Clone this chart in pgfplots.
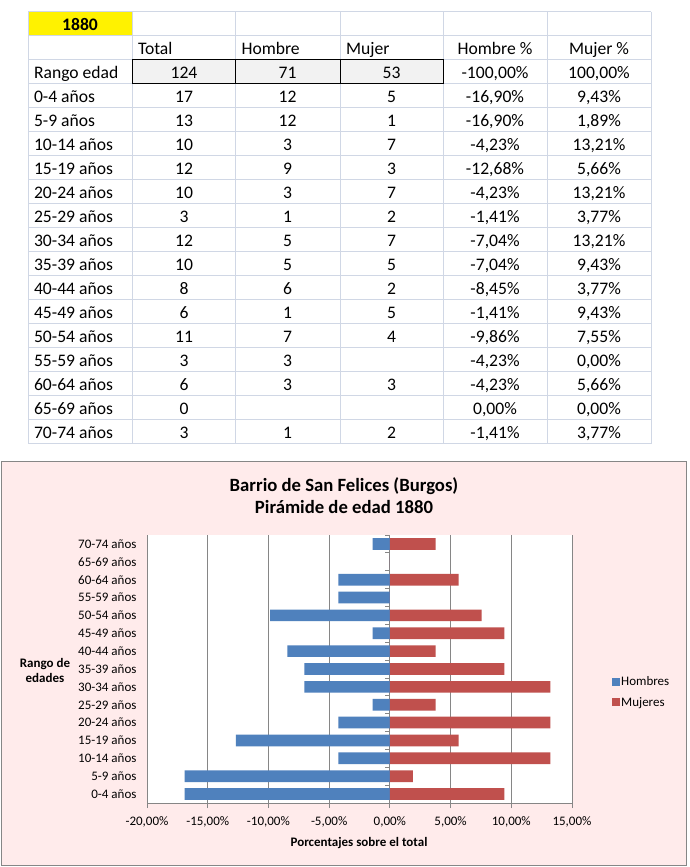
\documentclass[border=0pt]{standalone}
\usepackage{pgfplots}
\pgfplotsset{compat=1.18}
\usepackage{fontspec}
\setmainfont{Carlito}

\definecolor{gridc}{HTML}{D0D7E5}
\definecolor{hombre}{HTML}{4F81BD}
\definecolor{mujer}{HTML}{C0504D}
\definecolor{chartbg}{RGB}{255,235,235}
\definecolor{chartframe}{HTML}{868686}
\definecolor{cellgray}{HTML}{F2F2F2}

\newcommand\tfont{\fontsize{17.6}{20}\selectfont}
\newcommand\cfont{\fontsize{13}{15}\selectfont}

\begin{document}
\begin{tikzpicture}[x=1pt,y=1pt]
\path[use as bounding box] (0,0) rectangle (689,867);

% spreadsheet part, y measured downwards
\begin{scope}[y=-1pt, yshift=867pt]
  \fill[cellgray] (132,60) rectangle (443,84);
  \foreach \k in {0,...,18}
    \draw[gridc, line width=1pt] (28,{12+24*\k}) -- (651,{12+24*\k});
  \foreach \x in {28,132,235,340,443,547,651}
    \draw[gridc, line width=1pt] (\x,12) -- (\x,444);
  \fill[yellow] (28.5,12.5) rectangle (131.5,35.5);
  \draw[black, line width=1pt] (132,60) rectangle (235,84) (235,60) rectangle (340,84) (340,60) rectangle (443,84);

  \node[anchor=base, font=\bfseries\tfont] at (80,30.5) {1880};
  \node[anchor=base west, font=\tfont] at (134.5,54.5) {Total};
  \node[anchor=base west, font=\tfont] at (238,54.5) {Hombre};
  \node[anchor=base west, font=\tfont] at (342.5,54.5) {Mujer};
  \node[anchor=base, font=\tfont] at (495,54.5) {Hombre \%};
  \node[anchor=base, font=\tfont] at (599,54.5) {Mujer \%};

  \node[anchor=base west, font=\tfont] at (30.5,78.5) {Rango edad};
  \node[anchor=base, font=\tfont] at (184,78.5) {124};
  \node[anchor=base, font=\tfont] at (287.5,78.5) {71};
  \node[anchor=base, font=\tfont] at (391.5,78.5) {53};
  \node[anchor=base, font=\tfont] at (495,78.5) {-100{,}00\%};
  \node[anchor=base, font=\tfont] at (599,78.5) {100{,}00\%};

  \foreach \lab/\t/\h/\m/\hp/\mp [count=\r from 3] in {
      0-4 años/17/12/5/-16{,}90\%/9{,}43\%,
      5-9 años/13/12/1/-16{,}90\%/1{,}89\%,
      10-14 años/10/3/7/-4{,}23\%/13{,}21\%,
      15-19 años/12/9/3/-12{,}68\%/5{,}66\%,
      20-24 años/10/3/7/-4{,}23\%/13{,}21\%,
      25-29 años/3/1/2/-1{,}41\%/3{,}77\%,
      30-34 años/12/5/7/-7{,}04\%/13{,}21\%,
      35-39 años/10/5/5/-7{,}04\%/9{,}43\%,
      40-44 años/8/6/2/-8{,}45\%/3{,}77\%,
      45-49 años/6/1/5/-1{,}41\%/9{,}43\%,
      50-54 años/11/7/4/-9{,}86\%/7{,}55\%,
      55-59 años/3/3/{}/-4{,}23\%/0{,}00\%,
      60-64 años/6/3/3/-4{,}23\%/5{,}66\%,
      65-69 años/0/{}/{}/0{,}00\%/0{,}00\%,
      70-74 años/3/1/2/-1{,}41\%/3{,}77\%} {
    \node[anchor=base west, font=\tfont] at (30.5,{30.5+24*\r}) {\lab};
    \node[anchor=base, font=\tfont] at (184,{30.5+24*\r}) {\t};
    \node[anchor=base, font=\tfont] at (287.5,{30.5+24*\r}) {\h};
    \node[anchor=base, font=\tfont] at (391.5,{30.5+24*\r}) {\m};
    \node[anchor=base, font=\tfont] at (495,{30.5+24*\r}) {\hp};
    \node[anchor=base, font=\tfont] at (599,{30.5+24*\r}) {\mp};
  }

  % chart area
  \draw[chartframe, fill=chartbg, line width=1pt] (1.5,462) rectangle (686,865.5);
  \node[anchor=base, font=\bfseries\fontsize{18.7}{21}\selectfont] at (344,491.5) {Barrio de San Felices (Burgos)};
  \node[anchor=base, font=\bfseries\fontsize{18.7}{21}\selectfont] at (344,513.5) {Pirámide de edad 1880};
  \node[anchor=base, font=\bfseries\cfont] at (45,667.5) {Rango de};
  \node[anchor=base, font=\bfseries\cfont] at (45,682.5) {edades};
  \node[anchor=base, font=\bfseries\cfont] at (359,846.5) {Porcentajes sobre el total};
\end{scope}

\begin{axis}[
  at={(147pt,64pt)}, anchor=south west,
  scale only axis, width=425pt, height=268pt,
  xmin=-20, xmax=15, ymin=-0.5, ymax=14.5,
  axis background/.style={fill=white},
  axis x line=bottom, x axis line style={-, chartframe, line width=0.8pt},
  axis y line=left, y axis line style={draw=none},
  xtick={-20,-15,...,15},
  xticklabels={{-20,00\%},{-15,00\%},{-10,00\%},{-5,00\%},{0,00\%},{5,00\%},{10,00\%},{15,00\%}},
  tick align=outside, major tick length=5pt,
  xtick style={chartframe, line width=0.8pt},
  ytick style={draw=none},
  xmajorgrids, major grid style={chartframe, line width=0.8pt},
  ytick={0,...,14},
  yticklabels={0-4 años,5-9 años,10-14 años,15-19 años,20-24 años,25-29 años,30-34 años,35-39 años,40-44 años,45-49 años,50-54 años,55-59 años,60-64 años,65-69 años,70-74 años},
  ticklabel style={font=\cfont},
  xticklabel style={yshift=-5.5pt},
  yticklabel style={xshift=-2pt},
  legend style={at={(1,0.414)}, anchor=west, xshift=40pt, draw=none, fill=none,
    inner sep=0pt, font=\cfont, row sep=8pt, nodes={inner sep=1pt}},
  legend cell align=left,
]
\addplot[xbar, bar width=11.7pt, bar shift=0pt, fill=hombre, draw=none,
  legend image code/.code={\fill[hombre] (0pt,-4pt) rectangle (8pt,4pt);}]
  coordinates {
  (-16.90,0) (-16.90,1) (-4.23,2) (-12.68,3) (-4.23,4) (-1.41,5) (-7.04,6) (-7.04,7)
  (-8.45,8) (-1.41,9) (-9.86,10) (-4.23,11) (-4.23,12) (0,13) (-1.41,14)};
\addlegendentry{Hombres}
\addplot[xbar, bar width=11.7pt, bar shift=0pt, fill=mujer, draw=none,
  legend image code/.code={\fill[mujer] (0pt,-4pt) rectangle (8pt,4pt);}]
  coordinates {
  (9.43,0) (1.89,1) (13.21,2) (5.66,3) (13.21,4) (3.77,5) (13.21,6) (9.43,7)
  (3.77,8) (9.43,9) (7.55,10) (0,11) (5.66,12) (0,13) (3.77,14)};
\addlegendentry{Mujeres}
\pgfplotsinvokeforeach{-0.5,0.5,1.5,2.5,3.5,4.5,5.5,6.5,7.5,8.5,9.5,10.5,11.5,12.5,13.5,14.5}{
  \draw[chartframe, line width=0.8pt] (axis cs:-0.4,#1) -- (axis cs:0,#1);
}
\end{axis}
\end{tikzpicture}
\end{document}
